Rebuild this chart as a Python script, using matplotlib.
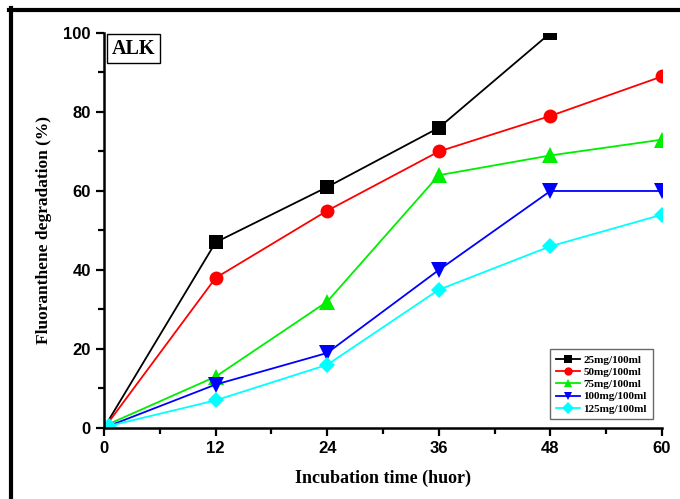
import numpy as np
import matplotlib.pyplot as plt
from matplotlib.lines import Line2D
from matplotlib.ticker import MultipleLocator

# data
hours = [0.5, 12, 24, 36, 48, 60]
deg_25 = [2, 47, 61, 76, 100]
deg_50 = [1.5, 38, 55, 70, 79, 89]
deg_75 = [1, 13, 32, 64, 69, 73]
deg_100 = [0.5, 11, 19, 40, 60, 60]
deg_125 = [0.5, 7, 16, 35, 46, 54]
labels = ['25mg/100ml', '50mg/100ml', '75mg/100ml', '100mg/100ml', '125mg/100ml']

series = [deg_25, deg_50, deg_75, deg_100, deg_125]
colors = ['black', '#ff0000', '#00ee00', '#0000ff', '#00ffff']
markers = ['s', 'o', '^', 'v', 'D']
msizes = [10, 10, 11, 11, 8]

fig = plt.figure(figsize=(6.8, 4.99), dpi=100)
ax = fig.add_axes([0.153, 0.1423, 0.8205, 0.7916])

for i, (y, c, m, ms, lab) in enumerate(zip(series, colors, markers, msizes, labels)):
    # start markers are hidden under the cyan one in the original
    every = 1 if i == 4 else slice(1, None)
    ax.plot(hours[:len(y)], y, color=c, marker=m, markersize=ms, lw=1.3,
            label=lab, markeredgewidth=0, markevery=every)

ax.set_xlim(0, 60)
ax.set_ylim(0, 100)
ax.xaxis.set_major_locator(MultipleLocator(12))
ax.xaxis.set_minor_locator(MultipleLocator(6))
ax.yaxis.set_major_locator(MultipleLocator(20))
ax.yaxis.set_minor_locator(MultipleLocator(10))
ax.spines['top'].set_visible(False)
ax.spines['right'].set_visible(False)
ax.spines['left'].set_linewidth(1.8)
ax.spines['bottom'].set_linewidth(1.8)
ax.tick_params(which='major', direction='out', length=6, width=1.6)
ax.tick_params(which='minor', direction='out', length=4, width=1.6)
for t in ax.get_xticklabels() + ax.get_yticklabels():
    t.set_fontfamily('Liberation Sans')
    t.set_fontweight('bold')
    t.set_fontsize(12)

ax.set_xlabel('Incubation time (huor)', family='Liberation Serif',
              weight='bold', fontsize=13, labelpad=10)
ax.set_ylabel('Fluoranthene degradation (%)', family='Liberation Serif',
              weight='bold', fontsize=12.5, labelpad=8)

ax.text(0.014, 0.985, 'ALK', transform=ax.transAxes, ha='left', va='top',
        family='Liberation Serif', weight='bold', fontsize=14.5,
        bbox=dict(boxstyle='square,pad=0.22', fc='white', ec='black', lw=1))

handles = [Line2D([], [], color=c, marker=m, markersize=6, lw=1.3, markeredgewidth=0)
           for c, m in zip(colors, markers)]
leg = ax.legend(handles, labels, loc='lower right', bbox_to_anchor=(0.993, 0.008),
                prop={'family': 'Liberation Serif', 'weight': 'bold', 'size': 8},
                fancybox=False, edgecolor='#444444', handlelength=2.2,
                labelspacing=0.22, borderpad=0.5, handletextpad=0.3)
leg.get_frame().set_linewidth(1)

# frame border (top and left visible in the reference)
fig.add_artist(Line2D([9 / 680, 1], [1 - 10 / 499, 1 - 10 / 499], color='black',
                      lw=3, transform=fig.transFigure))
fig.add_artist(Line2D([11 / 680, 11 / 680], [0, 1 - 8 / 499], color='black',
                      lw=3, transform=fig.transFigure))

fig.savefig('out.png', dpi=100)
